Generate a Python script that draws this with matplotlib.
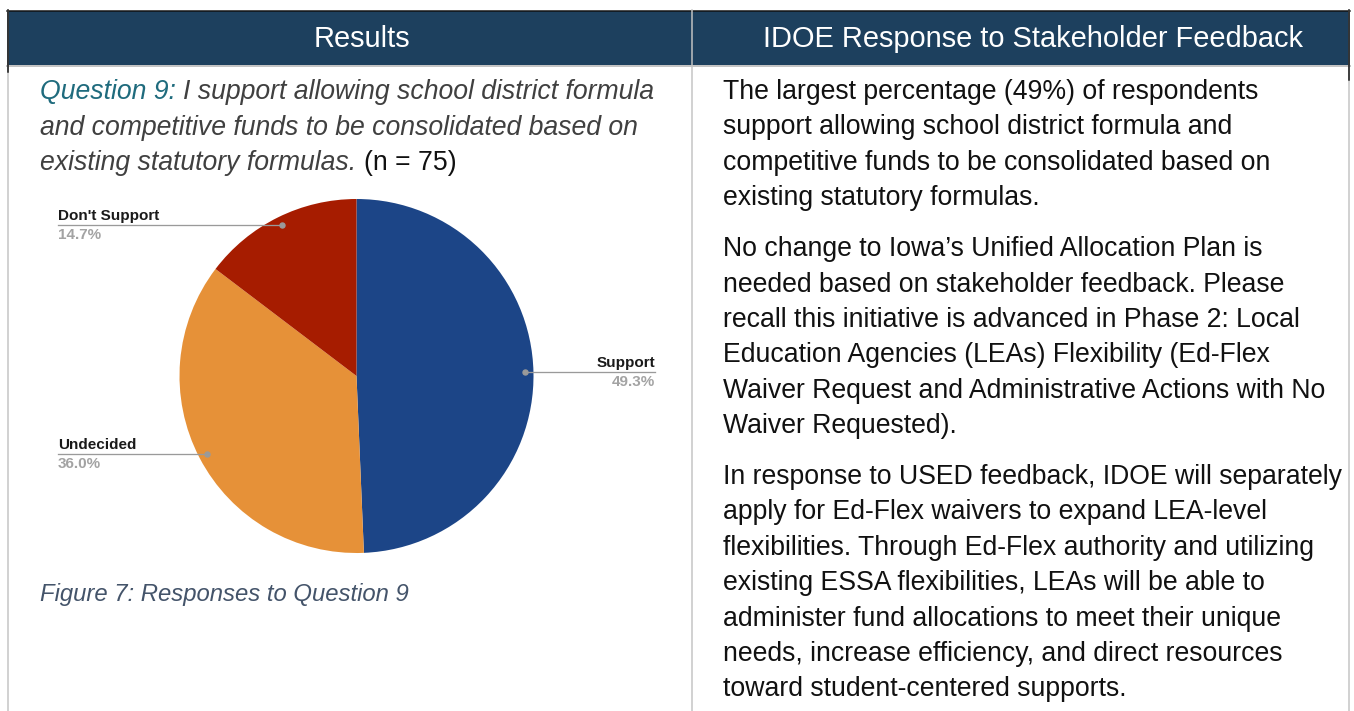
import matplotlib.pyplot as plt
from matplotlib.patches import Rectangle
import numpy as np

W, H = 1354, 711
FONT = "Liberation Sans"

# Question 9 answers, n = 75
answers = ["Support", "Undecided", "Don't Support"]
counts = [37, 27, 11]
slice_colors = ["#1c4587", "#e69138", "#a61c00"]

headers = ["Results", "IDOE Response to Stakeholder Feedback"]
question_tag = "Question 9:"
question_lines = [
    "I support allowing school district formula",
    "and competitive funds to be consolidated based on",
    "existing statutory formulas.",
]
sample_note = "(n = 75)"
caption = "Figure 7: Responses to Question 9"

response_paragraphs = [
    ["The largest percentage (49%) of respondents",
     "support allowing school district formula and",
     "competitive funds to be consolidated based on",
     "existing statutory formulas."],
    ["No change to Iowa\u2019s Unified Allocation Plan is",
     "needed based on stakeholder feedback. Please",
     "recall this initiative is advanced in Phase 2: Local",
     "Education Agencies (LEAs) Flexibility (Ed-Flex",
     "Waiver Request and Administrative Actions with No",
     "Waiver Requested)."],
    ["In response to USED feedback, IDOE will separately",
     "apply for Ed-Flex waivers to expand LEA-level",
     "flexibilities. Through Ed-Flex authority and utilizing",
     "existing ESSA flexibilities, LEAs will be able to",
     "administer fund allocations to meet their unique",
     "needs, increase efficiency, and direct resources",
     "toward student-centered supports."],
]


def px(p):
    # pixel size -> points at 100 dpi
    return p * 0.72


def text_width(ax, renderer, s, **kw):
    t = ax.text(0, 0, s, **kw)
    w = t.get_window_extent(renderer).width
    t.remove()
    return w


fig = plt.figure(figsize=(W / 100, H / 100), dpi=100)

# pie chart sits underneath the page layer
CX, CY, R = 356.5, 376, 177
pax = fig.add_axes([(CX - R) / W, (H - CY - R) / H, 2 * R / W, 2 * R / H])
pax.pie(counts, colors=slice_colors, startangle=90, counterclock=False,
        radius=1, wedgeprops=dict(linewidth=0))
pax.set_xlim(-1, 1)
pax.set_ylim(-1, 1)
pax.axis("off")

ax = fig.add_axes([0, 0, 1, 1])
ax.set_xlim(0, W)
ax.set_ylim(H, 0)
ax.axis("off")
ax.set_zorder(3)
renderer = fig.canvas.get_renderer()

# table frame
header_col = "#1d405e"
grid_col = "#c4c4c4"
ax.add_patch(Rectangle((7, 11), 1343, 54, color=header_col, lw=0))
ax.plot([7, 1350], [10.5, 10.5], color="#111111", lw=px(1.5))
ax.plot([7, 1350], [66, 66], color=grid_col, lw=px(2))
ax.plot([7.5, 7.5], [10, H], color=grid_col, lw=px(1.5))
ax.plot([7.5, 7.5], [10, 72], color="#111111", lw=px(1.5))
ax.plot([692, 692], [10, H], color=grid_col, lw=px(1.5))
ax.plot([1349, 1349], [10, H], color=grid_col, lw=px(1.5))
ax.plot([1349, 1349], [10, 80], color="#111111", lw=px(1.5))

ax.text(362, 39, headers[0], color="white", fontsize=px(29), family=FONT,
        ha="center", va="center")
ax.text(1033, 39, headers[1], color="white", fontsize=px(29), family=FONT,
        ha="center", va="center")

# question text, mixed styles on each line
body = px(26.6)
q_style = dict(fontsize=body, family=FONT, style="italic", va="center")
line_y = [92, 128, 163]
x0 = 40
t = ax.text(x0, line_y[0], question_tag, color="#1f6b7d", **q_style)
sp = text_width(ax, renderer, "a a", **q_style) - text_width(ax, renderer, "aa", **q_style)
x = x0 + t.get_window_extent(renderer).width + sp
ax.text(x, line_y[0], question_lines[0], color="#404040", **q_style)
ax.text(x0, line_y[1], question_lines[1], color="#404040", **q_style)
t = ax.text(x0, line_y[2], question_lines[2], color="#404040", **q_style)
x = x0 + t.get_window_extent(renderer).width + sp
ax.text(x, line_y[2], sample_note, color="#111111", fontsize=body, family=FONT,
        va="center")

ax.text(40, 595, caption, color="#44546a", fontsize=px(23.9), family=FONT,
        style="italic", va="center")

# response column
y = 92
for para in response_paragraphs:
    for line in para:
        ax.text(723, y, line, color="#111111", fontsize=body, family=FONT,
                va="center")
        y += 35.4
    y += 15.5

# leader lines and slice labels
total = sum(counts)
shares = np.array(counts) / total
ends = 90 - np.cumsum(shares) * 360
mids = ends + shares * 180
lab_kw = dict(fontsize=px(15.2), family=FONT, weight="bold")
for name, share, mid in zip(answers, shares, mids):
    a = np.radians(mid)
    dx = CX + 0.95 * R * np.cos(a)
    dy = CY - 0.95 * R * np.sin(a)
    if np.cos(a) > 0:
        ex, ha = 655, "right"
    else:
        ex, ha = 58, "left"
    ax.plot([dx, ex], [dy, dy], color="#9a9a9a", lw=px(1.3), zorder=5)
    ax.plot(dx, dy, "o", color="#9a9a9a", ms=px(5), zorder=6)
    ax.text(ex, dy - 2, name, color="#1a1a1a", ha=ha, va="bottom", **lab_kw)
    ax.text(ex, dy + 3, f"{share * 100:.1f}%", color="#a3a3a3", ha=ha,
            va="top", **lab_kw)

fig.savefig("out.png", dpi=100)
